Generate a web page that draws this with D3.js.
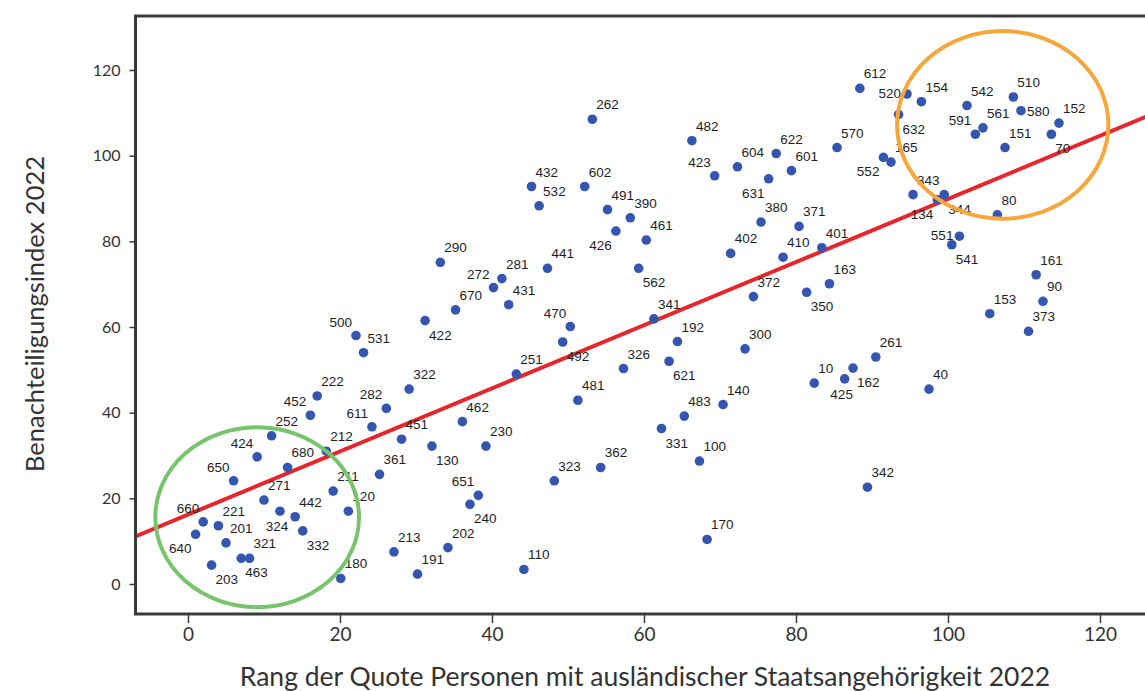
<!DOCTYPE html>
<html><head><meta charset="utf-8">
<script src="https://cdn.jsdelivr.net/npm/d3@7"></script>
<style>
html,body{margin:0;padding:0;background:#fff;}
svg{display:block;}
</style></head>
<body>
<svg id="chart" width="1145" height="691"></svg>
<script>
// ---------- DATA ----------
const pointLabels = [
  262,432,602,532,491,390,426,461,562,441,
  290,281,272,670,431,422,470,492,251,326,
  322,481,462,282,500,531,222,452,611,252,
  212,424,680,361,451,130,230,650,211,271,
  120,442,324,332,660,221,640,201,321,463,
  203,180,213,202,191,110,651,240,323,362,
  331,100,170,342,483,140,621,192,300,341,
  372,350,163,402,410,401,380,371,631,423,
  604,482,622,601,570,612,520,154,632,165,
  552,343,344,134,542,510,580,561,591,151,
  152,70,80,551,541,161,90,153,373,40,
  261,10,162,425
];
const rankForeign = [
  53.2,45.2,52.2,46.2,55.2,58.2,56.3,60.3,59.3,47.3,
  33.2,41.3,40.2,35.2,42.2,31.2,50.3,49.3,43.2,57.3,
  29.1,51.3,36.1,26.1,22.1,23.1,17.0,16.1,24.2,11.0,
  18.2,9.1,13.1,25.2,28.1,32.1,39.2,6.0,19.1,10.0,
  21.1,14.1,12.1,15.1,2.0,4.0,1.0,5.0,8.1,7.0,
  3.1,20.1,27.1,34.2,30.2,44.2,38.2,37.1,48.2,54.3,
  62.3,67.3,68.3,89.4,65.3,70.4,63.3,64.4,73.3,61.3,
  74.4,81.4,84.4,71.4,78.3,83.4,75.4,80.4,76.4,69.3,
  72.3,66.3,77.4,79.4,85.4,88.4,94.6,96.5,93.5,92.5,
  91.5,95.4,99.5,98.6,102.5,108.6,109.6,104.6,103.6,107.5,
  114.6,113.6,106.5,101.5,100.5,111.6,112.5,105.5,110.6,97.5,
  90.5,82.4,87.5,86.4
];
const disadvantageIndex = [
  108.5,92.8,92.8,88.3,87.4,85.5,82.4,80.3,73.7,73.7,
  75.1,71.3,69.2,64.0,65.2,61.5,60.1,56.5,49.0,50.3,
  45.5,42.9,37.9,41.0,58.0,54.0,43.9,39.4,36.7,34.6,
  31.0,29.7,27.2,25.6,33.8,32.2,32.2,24.1,21.7,19.6,
  17.0,15.7,17.0,12.4,14.5,13.6,11.6,9.6,6.0,6.0,
  4.4,1.3,7.5,8.5,2.3,3.4,20.7,18.6,24.1,27.2,
  36.3,28.7,10.4,22.6,39.2,41.9,52.0,56.6,54.9,61.9,
  67.1,68.1,70.1,77.2,76.3,78.5,84.5,83.5,94.6,95.3,
  97.4,103.5,100.5,96.5,101.9,115.7,114.4,112.6,109.6,98.5,
  99.6,90.9,90.9,89.7,111.7,113.7,110.5,106.5,105.0,101.9,
  107.6,105.0,86.2,81.2,79.2,72.2,66.0,63.1,59.0,45.5,
  53.0,46.9,50.4,47.9
];
const xTicks = [0,20,40,60,80,100,120];
const yTicks = [0,20,40,60,80,100,120];
const trendIntercept = 16.2;
const trendSlope = 0.737;
const xTitle = "Rang der Quote Personen mit ausländischer Staatsangehörigkeit 2022";
const yTitle = "Benachteiligungsindex 2022";
// highlight ellipses (data units): cx, cy, rx, ry
const highlightLow  = [9.1, 15.6, 13.4, 21.0];
const highlightHigh = [107.2, 107.2, 13.9, 21.9];

// ---------- LAYOUT / STYLE ----------
const svg = d3.select("#chart");
const x = d3.scaleLinear().domain([0,120]).range([188,1100]);
const y = d3.scaleLinear().domain([0,120]).range([584,70]);
const frame = {left:135.5, top:16, right:1160, bottom:614};

const labelDir = {
  272:"nw",470:"nw",282:"nw",500:"nw",452:"nw",611:"nw",424:"nw",650:"nw",660:"nw",651:"nw",423:"nw",591:"nw",
  562:"se",422:"se",492:"se",130:"se",332:"se",463:"se",203:"se",240:"se",331:"se",621:"se",350:"se",632:"se",344:"se",70:"se",541:"se",162:"se",
  426:"sw",640:"sw",631:"sw",552:"sw",134:"sw",
  520:"w",551:"w",580:"e",324:"s",425:"s"
};
const off = {
  ne:{dx:4,dy:-10,a:"start"}, nw:{dx:-4,dy:-9,a:"end"},
  se:{dx:4,dy:19,a:"start"}, sw:{dx:-4,dy:19,a:"end"},
  w:{dx:-6,dy:4,a:"end"}, e:{dx:6,dy:5,a:"start"}, s:{dx:-3,dy:20,a:"middle"}
};

const data = pointLabels.map((l,i)=>({label:l, xv:rankForeign[i], yv:disadvantageIndex[i]}));

svg.append("defs").append("clipPath").attr("id","plotclip")
  .append("rect").attr("x",frame.left).attr("y",frame.top)
  .attr("width",frame.right-frame.left).attr("height",frame.bottom-frame.top);

const plot = svg.append("g").attr("clip-path","url(#plotclip)");

// trend line
const xDom = [x.invert(frame.left-5), x.invert(frame.right)];
plot.append("line")
  .attr("x1",x(xDom[0])).attr("y1",y(trendIntercept+trendSlope*xDom[0]))
  .attr("x2",x(xDom[1])).attr("y2",y(trendIntercept+trendSlope*xDom[1]))
  .attr("stroke","#e8252a").attr("stroke-width",4);

// points
plot.selectAll("circle.pt").data(data).join("circle")
  .attr("class","pt")
  .attr("cx",d=>x(d.xv)).attr("cy",d=>y(d.yv)).attr("r",4.8)
  .attr("fill","#3556b0");

// labels
plot.selectAll("text.lbl").data(data).join("text")
  .attr("class","lbl")
  .each(function(d){
    const o = off[labelDir[d.label]||"ne"];
    d3.select(this).attr("x",x(d.xv)+o.dx).attr("y",y(d.yv)+o.dy).attr("text-anchor",o.a);
  })
  .attr("font-family","'Liberation Sans', Arial, sans-serif")
  .attr("font-size",13.5).attr("fill","#1e1e1e")
  .text(d=>d.label);

// highlight ellipses
[[highlightLow,"#78c46c"],[highlightHigh,"#f6a73c"]].forEach(([h,c])=>{
  plot.append("ellipse")
    .attr("cx",x(h[0])).attr("cy",y(h[1]))
    .attr("rx",x(h[0]+h[2])-x(h[0])).attr("ry",y(h[1])-y(h[1]+h[3]))
    .attr("fill","none").attr("stroke",c).attr("stroke-width",4);
});

// frame
svg.append("rect").attr("x",frame.left).attr("y",frame.top)
  .attr("width",frame.right-frame.left).attr("height",frame.bottom-frame.top)
  .attr("fill","none").attr("stroke","#3a3a3a").attr("stroke-width",3);

// x axis
const xAxis = d3.axisBottom(x).tickValues(xTicks).tickSize(8).tickPadding(5).tickFormat(d3.format("d"));
const gx = svg.append("g").attr("transform",`translate(0,${frame.bottom+1})`).call(xAxis);
gx.select(".domain").remove();
gx.selectAll(".tick line").attr("stroke","#3a3a3a").attr("stroke-width",1.5);
gx.selectAll(".tick text").attr("font-family","Lato, 'Open Sans', sans-serif").attr("font-size",19).attr("fill","#333");

// y axis
const yAxis = d3.axisLeft(y).tickValues(yTicks).tickSize(5).tickPadding(9).tickFormat(d3.format("d"));
const gy = svg.append("g").attr("transform",`translate(${frame.left-1},0)`).call(yAxis);
gy.select(".domain").remove();
gy.selectAll(".tick line").attr("stroke","#3a3a3a").attr("stroke-width",1.5);
gy.selectAll(".tick text").attr("font-family","Lato, 'Open Sans', sans-serif").attr("font-size",16).attr("fill","#333");

// titles
svg.append("text").attr("x",645).attr("y",686).attr("text-anchor","middle")
  .attr("font-family","Lato, 'Open Sans', sans-serif").attr("font-size",26.5).attr("fill","#333")
  .text(xTitle);
svg.append("text").attr("transform","translate(44,314) rotate(-90)").attr("text-anchor","middle")
  .attr("font-family","Lato, 'Open Sans', sans-serif").attr("font-size",25.5).attr("fill","#333")
  .text(yTitle);
</script>
</body></html>
